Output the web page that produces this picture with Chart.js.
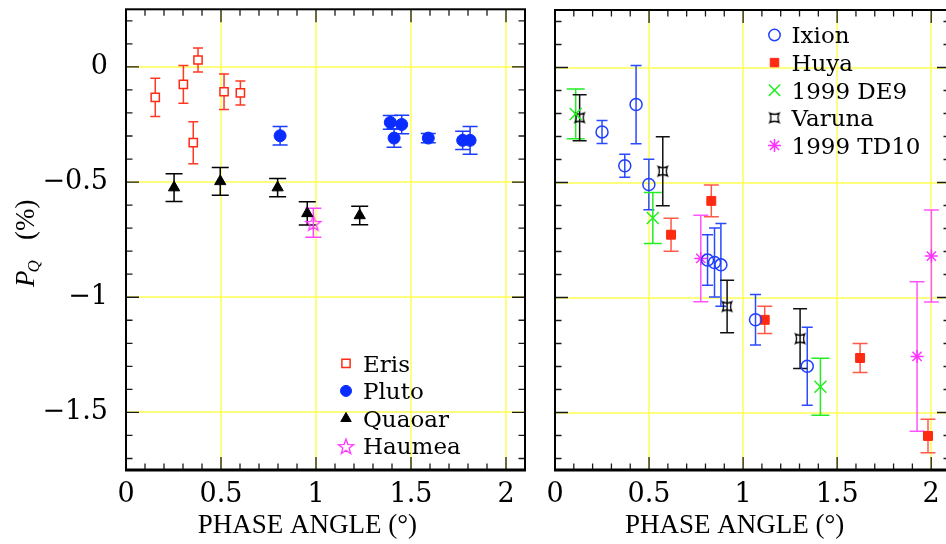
<!DOCTYPE html>
<html><head><meta charset="utf-8">
<script src="https://cdn.jsdelivr.net/npm/chart.js@4.4.1/dist/chart.umd.min.js"></script>
<style>
html,body{margin:0;padding:0;background:#fff;overflow:hidden;}
#wrap{position:relative;width:946px;height:544px;overflow:hidden;background:#fff;}
#c1{position:absolute;left:0;top:0;}
#c2{position:absolute;left:540px;top:0;}
</style></head><body>
<div id="wrap"><canvas id="c1" width="540" height="544"></canvas><canvas id="c2" width="420" height="544"></canvas></div>
<script>
// ---------------- data (phase angle in degrees, P_Q in %) ----------------
const xTickValues = [0, 0.5, 1, 1.5, 2];
const xTickLabels = ['0', '0.5', '1', '1.5', '2'];
const yTickValues = [0, -0.5, -1, -1.5];
const yTickLabels = ['0', '−0.5', '−1', '−1.5'];

const erisPhase = [0.154, 0.302, 0.379, 0.354, 0.516, 0.602];
const erisPQ    = [-0.132, -0.076, 0.030, -0.329, -0.108, -0.113];
const erisErr   = [0.083, 0.082, 0.052, 0.091, 0.077, 0.052];

const plutoPhase = [0.811, 1.391, 1.451, 1.411, 1.591, 1.772, 1.811];
const plutoPQ    = [-0.299, -0.241, -0.250, -0.309, -0.309, -0.319, -0.319];
const plutoErr   = [0.040, 0.030, 0.040, 0.040, 0.020, 0.040, 0.060];

const quaoarPhase = [0.253, 0.496, 0.798, 0.954, 1.230];
const quaoarPQ    = [-0.524, -0.497, -0.524, -0.636, -0.645];
const quaoarErr   = [0.060, 0.060, 0.040, 0.050, 0.040];

const haumeaPhase = [0.986];
const haumeaPQ    = [-0.677];
const haumeaErr   = [0.063];

const ixionPhase = [0.250, 0.431, 0.371, 0.499, 0.811, 0.848, 0.882, 1.066, 1.341];
const ixionPQ    = [-0.280, -0.161, -0.427, -0.509, -0.837, -0.848, -0.858, -1.097, -1.299];
const ixionErr   = [0.050, 0.170, 0.050, 0.110, 0.110, 0.150, 0.180, 0.110, 0.170];

const huyaPhase = [0.617, 0.831, 1.115, 1.622, 1.983];
const huyaPQ    = [-0.727, -0.580, -1.097, -1.263, -1.602];
const huyaErr   = [0.072, 0.069, 0.059, 0.063, 0.073];

const de9Phase = [0.110, 0.520, 1.411];
const de9PQ    = [-0.202, -0.654, -1.388];
const de9Err   = [0.108, 0.111, 0.124];

const varunaPhase = [0.131, 0.573, 0.915, 1.303];
const varunaPQ    = [-0.218, -0.451, -1.039, -1.179];
const varunaErr   = [0.100, 0.150, 0.114, 0.130];

const td10Phase = [0.775, 1.925, 2.001];
const td10PQ    = [-0.830, -1.256, -0.820];
const td10Err   = [0.188, 0.325, 0.200];

// ---------------- helpers ----------------
function pts(xs, ys) { return xs.map((x, i) => ({ x: x, y: ys[i] })); }
function makeImg(size, fn) {
  const c = document.createElement('canvas'); c.width = size; c.height = size;
  fn(c.getContext('2d'), size / 2); return c;
}
const starImg = makeImg(20, (g, c) => {
  g.strokeStyle = '#ff33ff'; g.lineWidth = 1.3; g.beginPath();
  for (let k = 0; k < 10; k++) {
    const r = (k % 2) ? 3.3 : 8;
    const a = -Math.PI / 2 + k * Math.PI / 5;
    const px = c + r * Math.cos(a), py = c + 1 + r * Math.sin(a);
    if (k) g.lineTo(px, py); else g.moveTo(px, py);
  }
  g.closePath(); g.stroke();
});
const varImg = makeImg(16, (g, c) => {
  g.strokeStyle = '#000'; g.lineWidth = 1.3; const a = 4.6, d = 2.2;
  g.beginPath();
  g.moveTo(c - a, c - a);
  g.quadraticCurveTo(c, c - a + d, c + a, c - a);
  g.quadraticCurveTo(c + a - d, c, c + a, c + a);
  g.quadraticCurveTo(c, c + a - d, c - a, c + a);
  g.quadraticCurveTo(c - a + d, c, c - a, c - a);
  g.closePath(); g.stroke();
});

const TICK_FONT = { family: '"DejaVu Serif"', size: 27 };
const gridYellow = '#ffff55';

function labelFor(values, labels, v) {
  const i = values.findIndex(t => Math.abs(t - v) < 1e-6);
  return i < 0 ? '' : labels[i];
}

const errorBarPlugin = {
  id: 'errbars',
  beforeDatasetsDraw(chart) {
    const ctx = chart.ctx, a = chart.chartArea, xs = chart.scales.x, ys = chart.scales.y;
    // yellow grid at the major ticks
    ctx.save();
    ctx.strokeStyle = gridYellow; ctx.lineWidth = 1.5;
    ctx.beginPath();
    xTickValues.forEach(v => { if (v > 0) { const p = Math.round(xs.getPixelForValue(v)); ctx.moveTo(p, a.top); ctx.lineTo(p, a.bottom); } });
    yTickValues.forEach(v => { const p = Math.round(ys.getPixelForValue(v)); ctx.moveTo(a.left, p); ctx.lineTo(a.right, p); });
    ctx.stroke();
    ctx.restore();
    // error bars
    chart.data.datasets.forEach((ds, di) => {
      const meta = chart.getDatasetMeta(di);
      ctx.save(); ctx.strokeStyle = ds.errColor; ctx.lineWidth = 1.5;
      meta.data.forEach((el, i) => {
        const v = ds.data[i].y, e = ds.errors[i];
        const t = ys.getPixelForValue(v + e), b = ys.getPixelForValue(v - e), x = el.x, w = ds.capHalf;
        ctx.beginPath();
        ctx.moveTo(x, t); ctx.lineTo(x, b);
        ctx.moveTo(x - w, t); ctx.lineTo(x + w, t);
        ctx.moveTo(x - w, b); ctx.lineTo(x + w, b);
        ctx.stroke();
      });
      ctx.restore();
    });
  }
};

const framePlugin = {
  id: 'frame',
  afterDatasetsDraw(chart) {
    const { ctx, chartArea: a, scales: { x, y } } = chart;
    ctx.save();
    ctx.strokeStyle = '#1a1a1a'; ctx.lineWidth = 1.3;
    ctx.beginPath();
    for (let k = 1; k <= 20; k++) {
      const px = x.getPixelForValue(k / 10); const L = (k % 5 === 0) ? 13 : 6.5;
      ctx.moveTo(px, a.bottom); ctx.lineTo(px, a.bottom - L);
      ctx.moveTo(px, a.top); ctx.lineTo(px, a.top + L);
    }
    for (let k = -17; k <= 2; k++) {
      const py = y.getPixelForValue(k / 10); const L = (k % 5 === 0) ? 13 : 6.5;
      ctx.moveTo(a.left, py); ctx.lineTo(a.left + L, py);
      ctx.moveTo(a.right, py); ctx.lineTo(a.right - L, py);
    }
    ctx.stroke();
    ctx.strokeStyle = '#000'; ctx.lineWidth = 2;
    ctx.strokeRect(a.left, a.top, a.right - a.left, a.bottom - a.top);
    ctx.lineWidth = 3;
    ctx.beginPath(); ctx.moveTo(a.left - 1, a.bottom); ctx.lineTo(a.right + 1, a.bottom); ctx.stroke();
    // x-axis title
    ctx.fillStyle = '#000';
    ctx.font = '27px "Liberation Serif"';
    ctx.textAlign = 'center'; ctx.textBaseline = 'alphabetic';
    ctx.fillText('PHASE ANGLE (°)', x.getPixelForValue(0.955), 533);
    ctx.restore();
  },
  afterDraw(chart) {
    const ctx = chart.ctx, a = chart.chartArea, o = chart.options.plugins.frame;
    ctx.save();
    // legend
    ctx.font = '23px "DejaVu Serif"';
    ctx.textAlign = 'left'; ctx.textBaseline = 'alphabetic';
    chart.data.datasets.forEach((ds, i) => {
      const mx = a.left + o.legendX, my = a.top + o.legendY + i * o.legendStep;
      ctx.fillStyle = ds.pointBackgroundColor; ctx.strokeStyle = ds.pointBorderColor;
      ctx.lineWidth = ds.pointBorderWidth;
      Chart.helpers.drawPoint(ctx, { pointStyle: ds.pointStyle, radius: ds.legendRadius, rotation: 0, borderWidth: ds.pointBorderWidth }, mx, my);
      ctx.fillStyle = '#000';
      ctx.fillText(ds.label, mx + 17, my + 8.3);
    });
    // y-axis title
    if (o.yTitle) {
      ctx.translate(34, 287); ctx.rotate(-Math.PI / 2);
      ctx.fillStyle = '#000';
      ctx.font = 'italic 27px "Liberation Serif"'; ctx.fillText('P', 0, 0);
      const pw = ctx.measureText('P').width;
      ctx.font = 'italic 17px "Liberation Serif"'; ctx.fillText('Q', pw - 2, 5);
      ctx.font = '27px "Liberation Serif"'; ctx.fillText('(%)', 47, 0);
    }
    ctx.restore();
  }
};

function ds(label, xs, ys, errs, style) {
  return Object.assign({ label: label, data: pts(xs, ys), errors: errs, showLine: false }, style);
}

function makeOptions(yAxisWidth, padRight, showY, legend) {
  return {
    responsive: false, animation: false, events: [],
    layout: { padding: { left: 0, right: padRight, top: 8, bottom: 0 } },
    plugins: { legend: { display: false }, tooltip: { enabled: false }, frame: legend },
    scales: {
      x: {
        type: 'linear', min: 0, max: 2.1,
        afterBuildTicks(s) { s.ticks = xTickValues.map(v => ({ value: v })); },
        afterFit(s) { s.height = 74; s.paddingLeft = 0; s.paddingRight = 0; },
        border: { display: false },
        grid: { display: false, drawTicks: false },
        ticks: { autoSkip: false, maxRotation: 0, padding: 9, color: '#000', font: TICK_FONT,
                 callback: (v) => labelFor(xTickValues, xTickLabels, v) }
      },
      y: {
        type: 'linear', min: -1.75, max: 0.25,
        afterBuildTicks(s) { s.ticks = yTickValues.map(v => ({ value: v })); },
        afterFit(s) { s.width = yAxisWidth; s.paddingTop = 0; s.paddingBottom = 0; },
        border: { display: false },
        grid: { display: false, drawTicks: false },
        ticks: { display: showY, autoSkip: false, padding: 18, color: '#000', font: TICK_FONT,
                 callback: (v) => labelFor(yTickValues, yTickLabels, v) }
      }
    }
  };
}

new Chart(document.getElementById('c1'), {
  type: 'scatter',
  data: { datasets: [
    ds('Eris', erisPhase, erisPQ, erisErr, { pointStyle: 'rect', pointRadius: 5.8, legendRadius: 5.8, pointBackgroundColor: '#ffffff', pointBorderColor: '#ff2a12', pointBorderWidth: 1.5, errColor: '#ff3a24', capHalf: 5 }),
    ds('Pluto', plutoPhase, plutoPQ, plutoErr, { pointStyle: 'circle', pointRadius: 6, legendRadius: 5.5, pointBackgroundColor: '#0a2cff', pointBorderColor: '#0a2cff', pointBorderWidth: 1, errColor: '#1a3cff', capHalf: 7.5 }),
    ds('Quaoar', quaoarPhase, quaoarPQ, quaoarErr, { pointStyle: 'triangle', pointRadius: 6.5, legendRadius: 6, pointBackgroundColor: '#000', pointBorderColor: '#000', pointBorderWidth: 1, errColor: '#000', capHalf: 8.5 }),
    ds('Haumea', haumeaPhase, haumeaPQ, haumeaErr, { pointStyle: starImg, pointRadius: 8, legendRadius: 8, pointBackgroundColor: '#ff33ff', pointBorderColor: '#ff33ff', pointBorderWidth: 1.3, errColor: '#ff44ff', capHalf: 8 })
  ] },
  options: makeOptions(126, 15, true, { legendX: 220, legendY: 354, legendStep: 27.6, yTitle: true }),
  plugins: [errorBarPlugin, framePlugin]
});

new Chart(document.getElementById('c2'), {
  type: 'scatter',
  data: { datasets: [
    ds('Ixion', ixionPhase, ixionPQ, ixionErr, { pointStyle: 'circle', pointRadius: 6, legendRadius: 5.7, pointBackgroundColor: 'rgba(0,0,0,0)', pointBorderColor: '#1f3fff', pointBorderWidth: 1.5, errColor: '#2a4aff', capHalf: 5.5 }),
    ds('Huya', huyaPhase, huyaPQ, huyaErr, { pointStyle: 'rect', pointRadius: 6.3, legendRadius: 6, pointBackgroundColor: '#ff2a12', pointBorderColor: '#ff2a12', pointBorderWidth: 1, errColor: '#ff5a48', capHalf: 7.5 }),
    ds('1999 DE9', de9Phase, de9PQ, de9Err, { pointStyle: 'crossRot', pointRadius: 8.5, legendRadius: 8, pointBackgroundColor: '#22ee22', pointBorderColor: '#22ee22', pointBorderWidth: 1.5, errColor: '#22ee22', capHalf: 9 }),
    ds('Varuna', varunaPhase, varunaPQ, varunaErr, { pointStyle: varImg, pointRadius: 7, legendRadius: 7, pointBackgroundColor: '#000', pointBorderColor: '#000', pointBorderWidth: 1.3, errColor: '#111', capHalf: 7 }),
    ds('1999 TD10', td10Phase, td10PQ, td10Err, { pointStyle: 'star', pointRadius: 6.5, legendRadius: 6.5, pointBackgroundColor: '#ff33ff', pointBorderColor: '#ff33ff', pointBorderWidth: 1.5, errColor: '#ff55ff', capHalf: 7.5 })
  ] },
  options: makeOptions(15, 6.5, false, { legendX: 219.5, legendY: 25, legendStep: 27.6, yTitle: false }),
  plugins: [errorBarPlugin, framePlugin]
});
</script>
</body></html>
